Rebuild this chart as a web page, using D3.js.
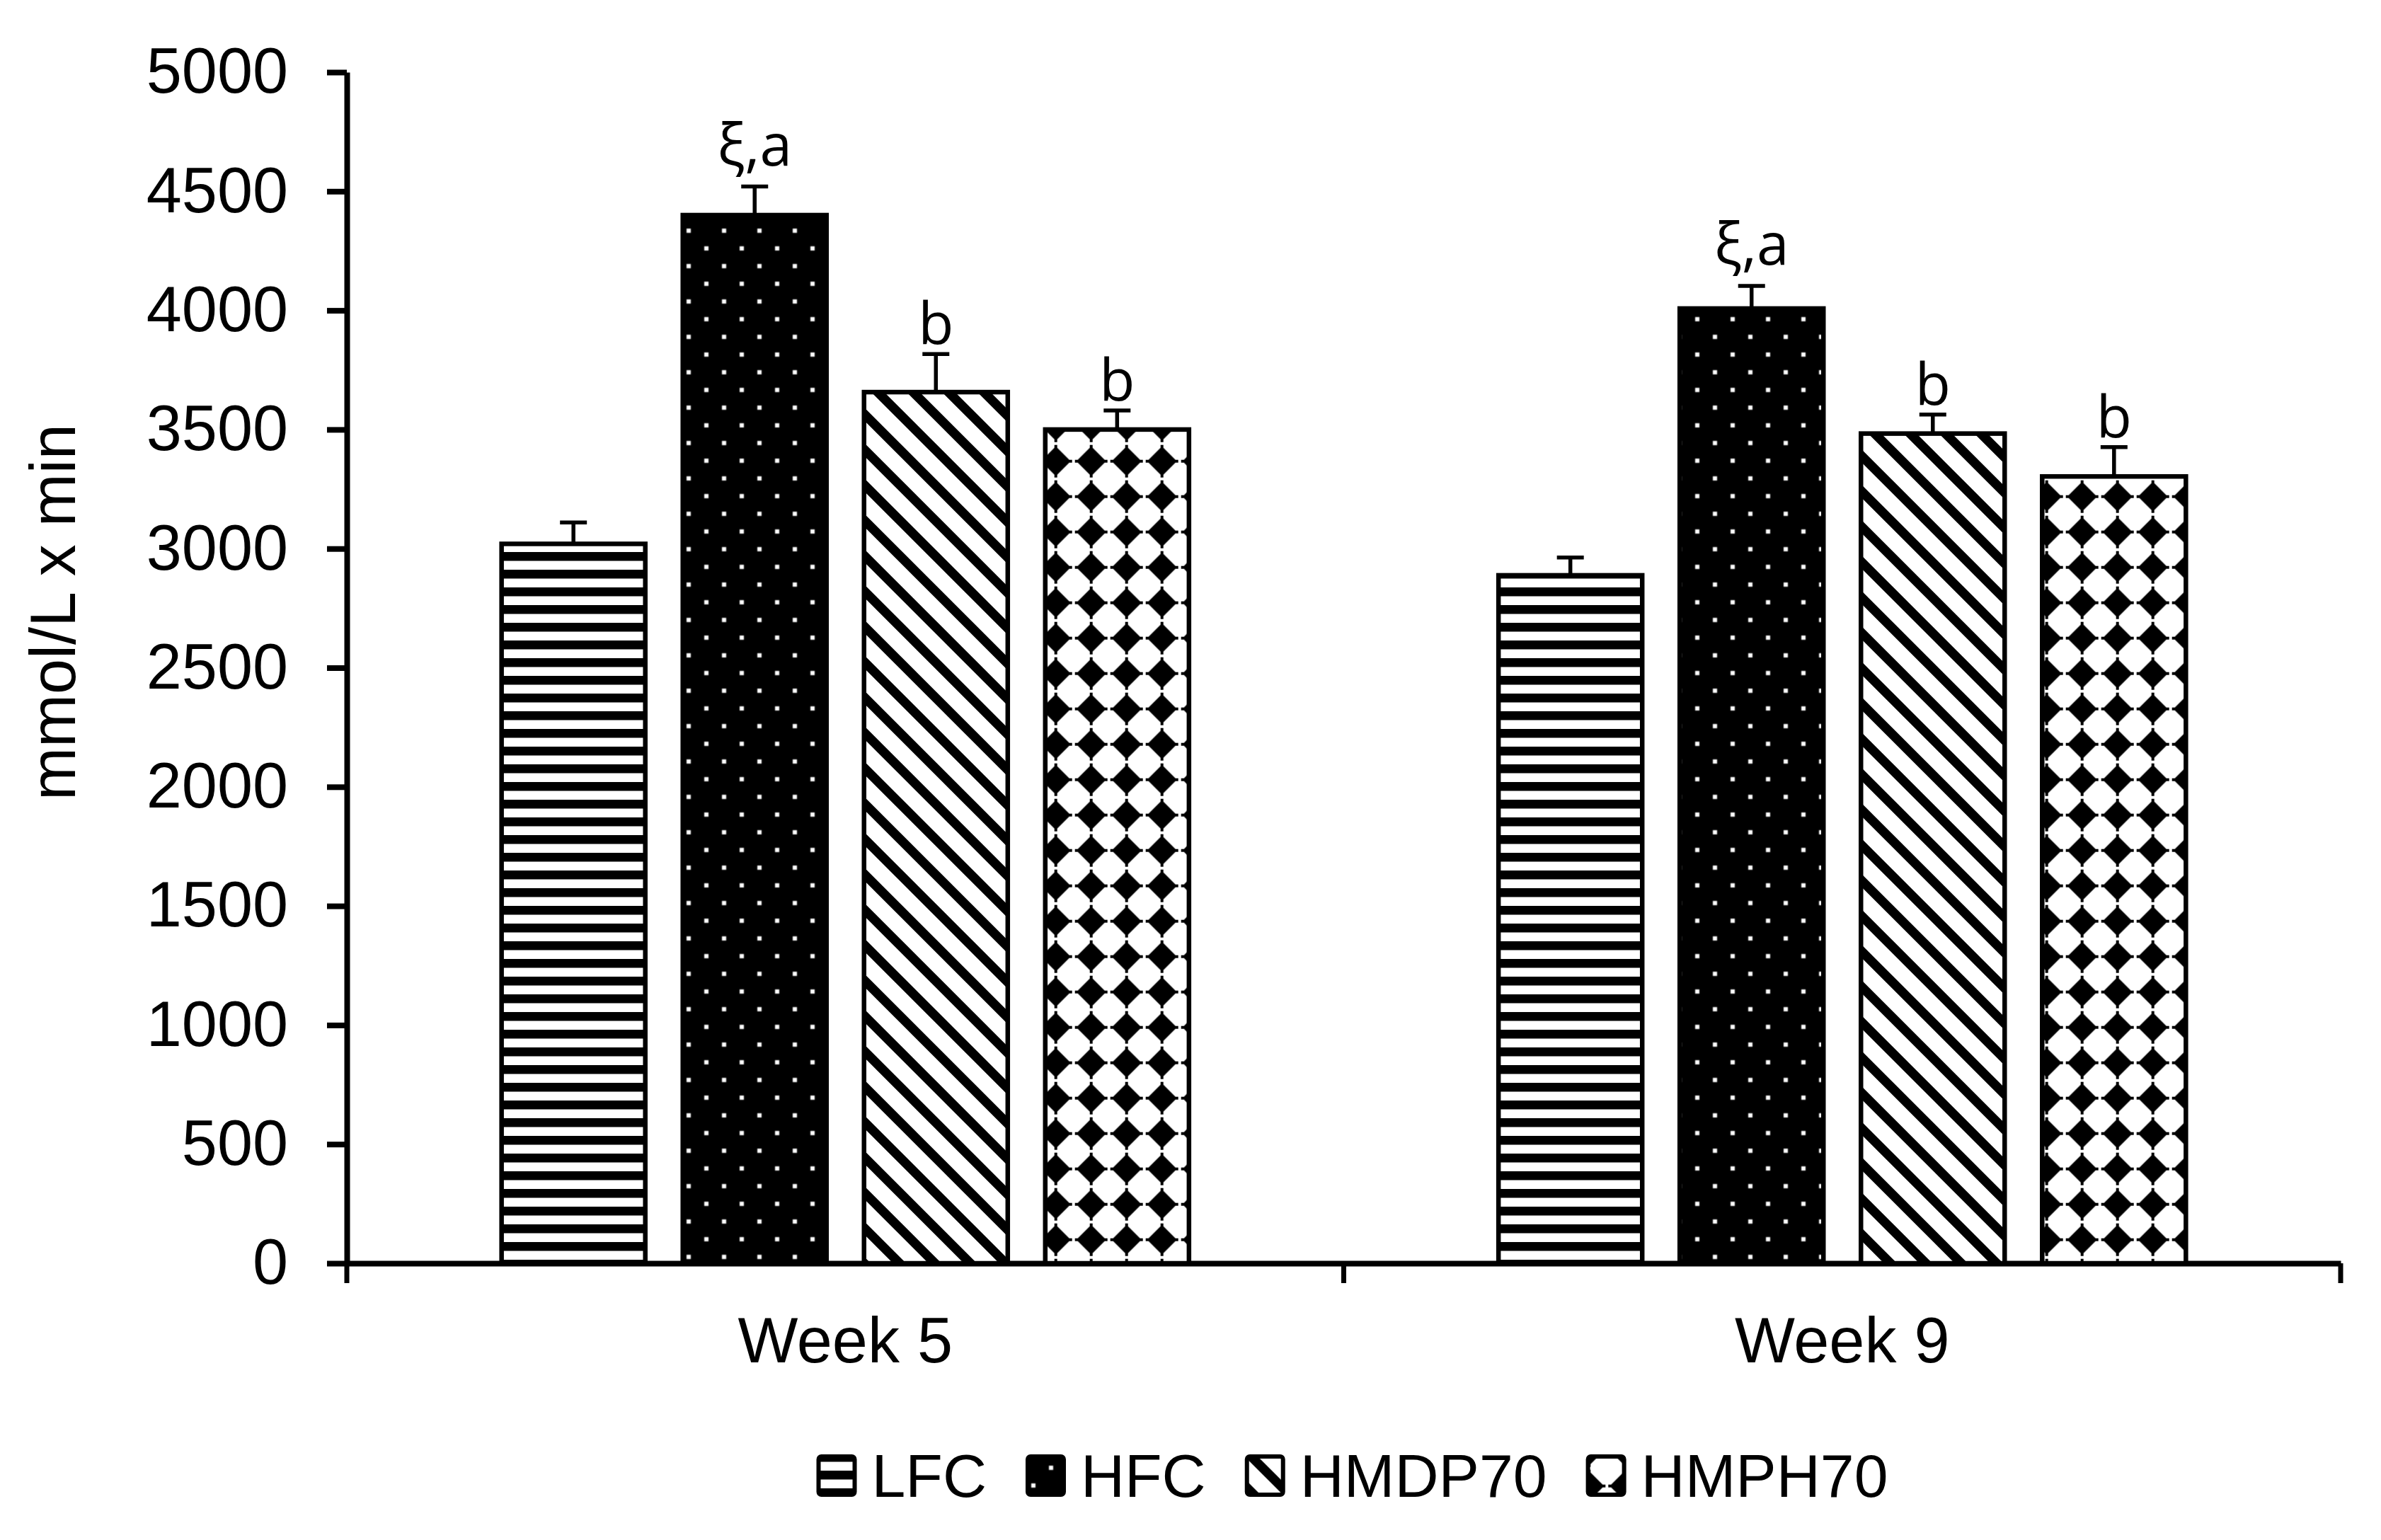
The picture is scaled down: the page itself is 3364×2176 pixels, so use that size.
<!DOCTYPE html>
<meta charset="utf-8">
<style>
  body { margin: 0; background: #fff; }
  text { font-family: "Liberation Sans", Arial, sans-serif; fill: #000; }
</style>

<!-- Load d3.js -->
<script src="https://d3js.org/d3.v7.min.js"></script>

<div id="my_dataviz"></div>

<script>

// data
var weeks = ["Week 5", "Week 9"];
var groups = ["LFC", "HFC", "HMDP70", "HMPH70"];
var week5Values = [3020, 4400, 3657, 3500];
var week5Errors = [90, 120, 160, 80];
var week9Values = [2888, 4008, 3483, 3303];
var week9Errors = [75, 95, 80, 123];
var week5Labels = ["", "ξ,a", "b", "b"];
var week9Labels = ["", "ξ,a", "b", "b"];
var yTicks = [0, 500, 1000, 1500, 2000, 2500, 3000, 3500, 4000, 4500, 5000];

var values = [week5Values, week9Values];
var errors = [week5Errors, week9Errors];
var labels = [week5Labels, week9Labels];

// set the dimensions and margins of the graph
var margin = {top: 102, right: 57, bottom: 391, left: 490},
    width = 3364 - margin.left - margin.right,
    height = 2176 - margin.top - margin.bottom;

var root = d3.select("#my_dataviz")
  .append("svg")
    .attr("width", 3364)
    .attr("height", 2176);

root.append("rect").attr("width", 3364).attr("height", 2176).attr("fill", "#fff");

var defs = root.append("defs");

var svg = root.append("g")
    .attr("transform", "translate(" + margin.left + "," + margin.top + ")");

// fill patterns
var pLfc = defs.append("pattern").attr("id", "pat-LFC")
  .attr("patternUnits", "userSpaceOnUse").attr("width", 25).attr("height", 25).attr("y", 3);
pLfc.append("rect").attr("width", 25).attr("height", 25).attr("fill", "#fff");
pLfc.append("rect").attr("width", 25).attr("height", 12.5).attr("fill", "#000");

var pHfc = defs.append("pattern").attr("id", "pat-HFC")
  .attr("patternUnits", "userSpaceOnUse").attr("width", 50).attr("height", 50).attr("x", 20.5).attr("y", 11.5);
pHfc.append("rect").attr("width", 50).attr("height", 50).attr("fill", "#000");
pHfc.append("rect").attr("x", 9.5).attr("y", 9.5).attr("width", 6).attr("height", 6).attr("fill", "#fff");
pHfc.append("rect").attr("x", 34.5).attr("y", 34.5).attr("width", 6).attr("height", 6).attr("fill", "#fff");

var pHmdp = defs.append("pattern").attr("id", "pat-HMDP70")
  .attr("patternUnits", "userSpaceOnUse").attr("width", 50).attr("height", 50).attr("y", 2);
pHmdp.append("rect").attr("width", 50).attr("height", 50).attr("fill", "#fff");
pHmdp.append("path")
  .attr("d", "M-10,-10L60,60M-10,40L10,60M40,-10L60,10")
  .attr("stroke", "#000").attr("stroke-width", 13);

var pHmph = defs.append("pattern").attr("id", "pat-HMPH70")
  .attr("patternUnits", "userSpaceOnUse").attr("width", 50).attr("height", 50).attr("x", 26.7).attr("y", 24.7);
pHmph.append("rect").attr("width", 50).attr("height", 50).attr("fill", "#fff");
// diamond with thin tips
pHmph.append("path")
  .attr("d", "M23,2H27V6L44,23H48V27H44L27,44V48H23V44L6,27H2V23H6L23,6Z")
  .attr("fill", "#000");

// scales
var x0 = d3.scaleBand()
  .domain(weeks)
  .range([0, width]);

var x1 = d3.scaleBand()
  .domain(groups)
  .range([0, x0.bandwidth()])
  .paddingInner(0.207)
  .paddingOuter(0.854);

var y = d3.scaleLinear()
  .domain([0, 5000])
  .range([height, 0]);

// Y axis
var yAxis = svg.append("g")
  .call(d3.axisLeft(y).tickValues(yTicks).tickFormat(d3.format("d"))
    .tickSize(28).tickSizeOuter(0).tickPadding(55));
yAxis.select(".domain").attr("stroke-width", 8);
yAxis.selectAll(".tick line").attr("stroke-width", 8);
yAxis.selectAll(".tick text").attr("font-size", 90).attr("font-family", "Liberation Sans, Arial, sans-serif");

// X axis
var xAxis = svg.append("g")
  .attr("transform", "translate(0," + height + ")")
  .call(d3.axisBottom(x0).tickSize(0).tickSizeOuter(0).tickPadding(76));
xAxis.select(".domain").attr("stroke-width", 8);
xAxis.selectAll(".tick text").attr("font-size", 90).attr("font-family", "Liberation Sans, Arial, sans-serif");

var bounds = weeks.map(function(w) { return x0(w); }).concat([x0.range()[1]]);
svg.append("g").selectAll("line")
  .data(bounds)
  .enter().append("line")
    .attr("x1", function(d) { return d; })
    .attr("x2", function(d) { return d; })
    .attr("y1", height)
    .attr("y2", height + 28)
    .attr("stroke", "#000")
    .attr("stroke-width", 7);

// bars
var rows = [];
weeks.forEach(function(w, i) {
  groups.forEach(function(g, j) {
    rows.push({week: w, group: g, value: values[i][j], err: errors[i][j], label: labels[i][j]});
  });
});

svg.append("g").selectAll("rect")
  .data(rows)
  .enter().append("rect")
    .attr("x", function(d) { return x0(d.week) + x1(d.group); })
    .attr("y", function(d) { return y(d.value); })
    .attr("width", x1.bandwidth())
    .attr("height", function(d) { return height - y(d.value); })
    .attr("fill", function(d) { return "url(#pat-" + d.group + ")"; })
    .attr("stroke", "#000")
    .attr("stroke-width", 6.5);

// error bars
var cap = 19;
var eb = svg.append("g").selectAll("g")
  .data(rows)
  .enter().append("g")
    .attr("transform", function(d) { return "translate(" + (x0(d.week) + x1(d.group) + x1.bandwidth() / 2) + ",0)"; });
eb.append("line")
  .attr("y1", function(d) { return y(d.value); })
  .attr("y2", function(d) { return y(d.value + d.err); })
  .attr("stroke", "#000").attr("stroke-width", 5.5);
eb.append("line")
  .attr("x1", -cap).attr("x2", cap)
  .attr("y1", function(d) { return y(d.value + d.err); })
  .attr("y2", function(d) { return y(d.value + d.err); })
  .attr("stroke", "#000").attr("stroke-width", 5.5);

// significance letters
eb.filter(function(d) { return d.label !== ""; })
  .append("text")
    .attr("text-anchor", "middle")
    .attr("y", function(d) { return y(d.value + d.err) - (d.label.indexOf("ξ") >= 0 ? 30 : 14); })
    .style("font-family", "'Open Sans', 'Noto Sans', sans-serif")
    .attr("font-size", 82)
    .text(function(d) { return d.label; });

// Y label
root.append("text")
  .attr("transform", "translate(106,865) rotate(-90)")
  .attr("text-anchor", "middle")
  .attr("font-size", 90)
  .text("mmol/L x min");

// legend
var legend = root.append("g");
var items = legend.selectAll("g")
  .data(groups)
  .enter().append("g");
items.append("rect")
  .attr("width", 51).attr("height", 54)
  .attr("y", 2058)
  .attr("rx", 4)
  .attr("fill", function(d) { return "url(#pat-" + d + ")"; })
  .attr("stroke", "#000").attr("stroke-width", 6);
items.append("text")
  .attr("x", 75)
  .attr("y", 2115)
  .attr("font-size", 86)
  .text(function(d) { return d; });

var pos = 0;
var offsets = [];
items.each(function() {
  var tw = d3.select(this).select("text").node().getComputedTextLength();
  offsets.push(pos);
  pos += 75 + tw + 58;
});
var total = pos - 58;
var start = 1912 - total / 2;
items.attr("transform", function(d, i) { return "translate(" + (start + offsets[i]) + ",0)"; });

</script>
